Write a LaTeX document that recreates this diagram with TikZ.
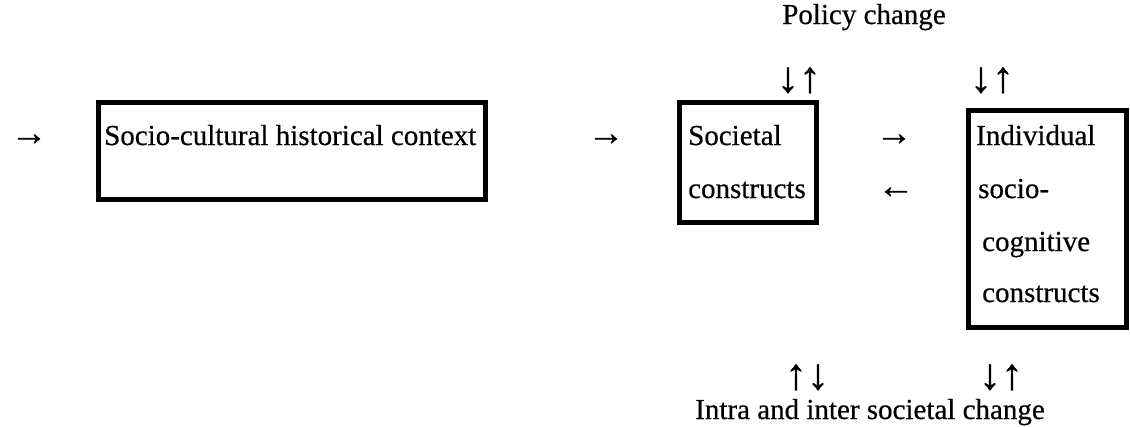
\documentclass[tikz,border=0pt]{standalone}
\usepackage{fontspec}
\setmainfont[FakeBold=0.5]{Liberation Serif}
\begin{document}
\begin{tikzpicture}[x=1pt,y=-1pt,
  txt/.style={font=\fontsize{29}{35}\selectfont, inner sep=0pt, anchor=base west},
  lbl/.style={font=\fontsize{29}{35}\selectfont, inner sep=0pt, anchor=base, text height=0.68em},
  harrow/.style={font=\fontsize{37}{40}\selectfont, inner sep=0pt, anchor=base, text depth=0pt},
  varrows/.style={font=\fontsize{44}{48}\selectfont, inner sep=0pt, anchor=base, text depth=0pt},
  frame/.style={draw, line width=4.5pt, inner sep=0pt, anchor=north west}]
\useasboundingbox (0,0) rectangle (1130,426);

% framed boxes
\node[frame, minimum width=387pt, minimum height=97pt] (ctx) at (96,100) {};
\node[frame, minimum width=137pt, minimum height=120pt] (soc) at (677,100) {};
\node[frame, minimum width=158pt, minimum height=217pt] (ind) at (966,108) {};

% box contents
\node[txt] (ctxA) at (104,145) {Socio-cultural historical context};
\node[txt] (socA) at (688,145) {Societal};
\node[txt] (socB) at (688,198) {constructs};
\node[txt] (indA) at (976,145) {Individual};
\node[txt] (indB) at (978,198) {socio-};
\node[txt] (indC) at (982,251) {cognitive};
\node[txt] (indD) at (982,302) {constructs};

% horizontal arrow glyphs
\node[harrow] (a0) at (29,145) {→};
\node[harrow] (a1) at (606,145) {→};
\node[harrow] (a2) at (894,145) {→};
\node[harrow] (a3) at (896,198) {←};

% labels above and below, with their paired arrow glyphs
\node[lbl] (pol) at (864,24) {Policy change};
\node[varrows] (pa) at (799,92) {↓↑};
\node[varrows] (pb) at (992,92) {↓↑};
\node[varrows] (ia) at (807,389) {↑↓};
\node[varrows] (ib) at (1001,389) {↓↑};
\node[lbl] (intra) at (870,419) {Intra and inter societal change};
\end{tikzpicture}
\end{document}
